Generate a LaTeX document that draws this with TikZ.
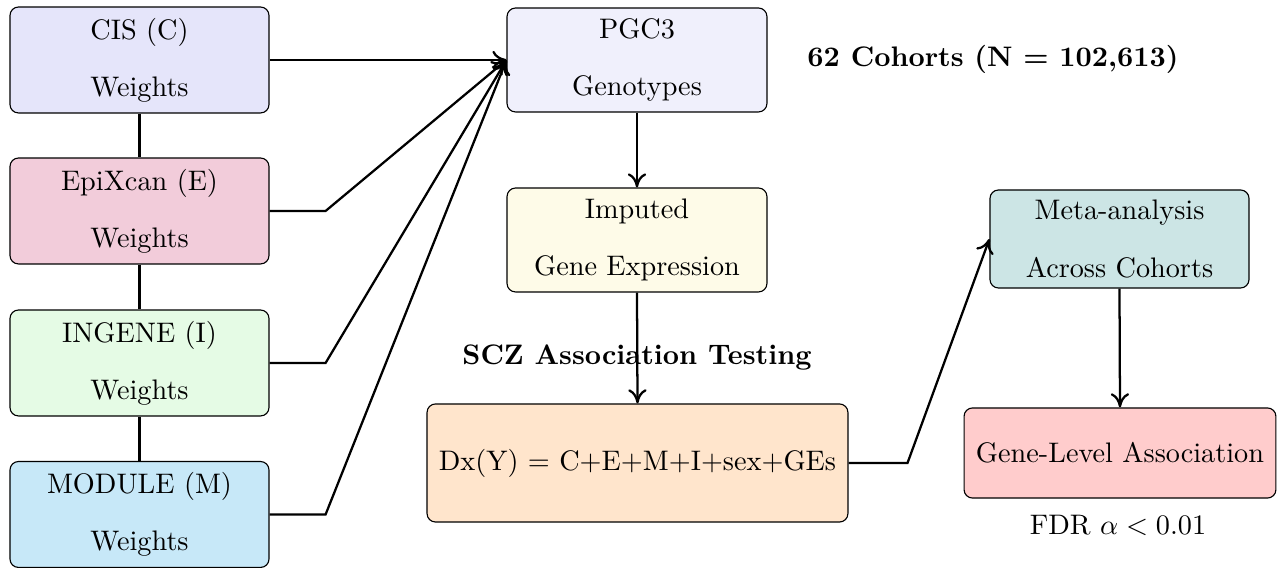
\documentclass[tikz,border=0pt]{standalone}
\usetikzlibrary{arrows.meta}
\definecolor{cCIS}{HTML}{E5E5FA}
\definecolor{cPGC}{HTML}{F0F0FC}
\definecolor{cEPI}{HTML}{F2CCDA}
\definecolor{cING}{HTML}{E5FBE5}
\definecolor{cMOD}{HTML}{C7E8F8}
\definecolor{cIMP}{HTML}{FEFBE8}
\definecolor{cDX}{HTML}{FFE5CC}
\definecolor{cMETA}{HTML}{CCE5E5}
\definecolor{cGENE}{HTML}{FFCCCC}
\tikzset{
  box/.style={draw=black, rounded corners=3pt, align=center, inner sep=0pt, line width=0.4pt},
  wbox/.style={box, minimum width=91.7pt, minimum height=37.5pt},
  conn/.style={thick},
  arr/.style={thick, -{To[length=5pt,width=6.5pt]}},
  lbl/.style={font=\bfseries, inner sep=0pt},
}
\begin{document}
\begin{tikzpicture}[x=0.354pt, y=-0.354pt]
\useasboundingbox (0,0) rectangle (1285,568);
% left column
\node[wbox, fill=cCIS] (cis) at (139.5,60) {CIS (C)\\[8.2pt]Weights};
\node[wbox, fill=cEPI] (epi) at (139.5,211) {EpiXcan (E)\\[8.2pt]Weights};
\node[wbox, fill=cING] (ing) at (139.5,363) {INGENE (I)\\[8.2pt]Weights};
\node[wbox, fill=cMOD] (mod) at (139.5,514.5) {MODULE (M)\\[8.2pt]Weights};
% middle column
\node[box, fill=cPGC, minimum width=92pt, minimum height=36.8pt] (pgc) at (637,60) {PGC3\\[8.2pt]Genotypes};
\node[box, fill=cIMP, minimum width=92pt, minimum height=36.8pt] (imp) at (637,240) {Imputed\\[8.2pt]Gene Expression};
\node[box, fill=cDX, minimum width=149pt, minimum height=41.8pt] (dx) at (637.5,463) {Dx(Y) = C+E+M+I+sex+GEs};
% right column
\node[box, fill=cMETA, minimum width=91.7pt, minimum height=34.7pt] (meta) at (1119.5,239) {Meta-analysis\\[8.2pt]Across Cohorts};
\node[box, fill=cGENE, minimum width=110.4pt, minimum height=31.9pt] (gene) at (1120,453) {Gene-Level Association};
% labels
\node[lbl] (cohorts) at (993,59) {62 Cohorts (N = 102,613)};
\node[lbl] (scz) at (637,357) {SCZ Association Testing};
\node[inner sep=0pt] (fdr) at (1118,525) {FDR $\alpha < 0.01$};
% connectors
\draw[conn] (cis.south) -- (epi.north);
\draw[conn] (epi.south) -- (ing.north);
\draw[conn] (ing.south) -- (mod.north);
\draw[arr] (cis.east) -- (pgc.west);
\draw[arr] (epi.east) -- ++(56,0) -- (pgc.west);
\draw[arr] (ing.east) -- ++(56,0) -- (pgc.west);
\draw[arr] (mod.east) -- ++(56,0) -- (pgc.west);
\draw[arr] (pgc.south) -- (imp.north);
\draw[arr] (imp.south) -- (dx.north);
\draw[arr] (dx.east) -- ++(59,0) -- (meta.west);
\draw[arr] (meta.south) -- (gene.north);
\end{tikzpicture}
\end{document}
